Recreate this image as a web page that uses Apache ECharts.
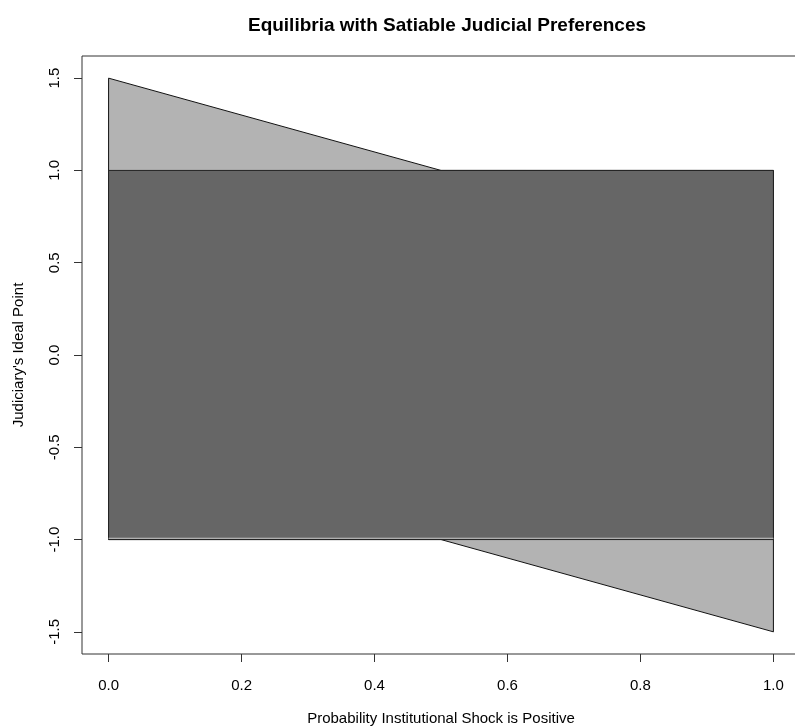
<!DOCTYPE html>
<html>
<head>
<meta charset="utf-8">
<script src="https://cdn.jsdelivr.net/npm/echarts@6/dist/echarts.min.js"></script>
<style>
  html, body { margin: 0; padding: 0; background: #fff; }
  #chart { width: 795px; height: 727px; }
</style>
</head>
<body>
<div id="chart"></div>
<script>
// region outlines (x = probability, y = ideal point)
const lightX = [0, 0.5, 1, 1, 0.5, 0];
const lightY = [1.5, 1, 1, -1.5, -1, -1];
const darkX = [0, 1, 1, 0];
const darkY = [1, 1, -1, -1];
const edgeX = [0, 1];
const edgeY = [-0.993, -0.993];

const xTicks = [0, 0.2, 0.4, 0.6, 0.8, 1.0];
const yTicks = [-1.5, -1.0, -0.5, 0, 0.5, 1.0, 1.5];

const shapes = [
  { xs: lightX, ys: lightY, fill: '#b3b3b3', stroke: '#111', closed: true },
  { xs: darkX, ys: darkY, fill: '#666666', stroke: '#222', closed: true },
  { xs: edgeX, ys: edgeY, fill: null, stroke: '#c8c8c8', closed: false }
];

const chart = echarts.init(document.getElementById('chart'));

const font = 'Liberation Sans, Arial, Helvetica, sans-serif';

const option = {
  animation: false,
  title: {
    text: 'Equilibria with Satiable Judicial Preferences',
    left: 442,
    textAlign: 'center',
    top: 11,
    textStyle: { fontFamily: font, fontSize: 19, fontWeight: 'bold', color: '#000' }
  },
  grid: {
    left: 82, top: 56, width: 718, bottom: 73,
    outerBoundsMode: 'none',
    containLabel: false,
    show: true, borderColor: '#333', borderWidth: 1, backgroundColor: 'transparent'
  },
  xAxis: {
    type: 'value',
    min: -0.04,
    max: 1.04,
    name: 'Probability Institutional Shock is Positive',
    nameLocation: 'middle',
    nameGap: 57,
    nameTextStyle: { fontFamily: font, fontSize: 15, color: '#000' },
    axisLine: { show: false, onZero: false },
    splitLine: { show: false },
    axisTick: { show: true, inside: false, length: 8, customValues: xTicks, lineStyle: { color: '#333' } },
    axisLabel: {
      customValues: xTicks,
      margin: 24,
      fontFamily: font, fontSize: 15, color: '#000',
      formatter: v => v.toFixed(1)
    }
  },
  yAxis: {
    type: 'value',
    min: -1.62,
    max: 1.62,
    name: "Judiciary's Ideal Point",
    nameLocation: 'middle',
    nameGap: 56,
    nameRotate: 90,
    nameTextStyle: { fontFamily: font, fontSize: 15, color: '#000' },
    axisLine: { show: false, onZero: false },
    splitLine: { show: false },
    axisTick: { show: true, inside: false, length: 8, customValues: yTicks, lineStyle: { color: '#333' } },
    axisLabel: {
      customValues: yTicks,
      rotate: 90,
      margin: 20,
      fontFamily: font, fontSize: 15, color: '#000',
      formatter: v => v.toFixed(1)
    }
  },
  series: [{
    type: 'custom',
    coordinateSystem: 'cartesian2d',
    data: shapes.map((s, i) => [s.xs[0], s.ys[0], i]),
    renderItem: function (params, api) {
      const s = shapes[params.dataIndex];
      const pts = s.xs.map((x, k) => api.coord([x, s.ys[k]]));
      if (!s.closed) {
        return {
          type: 'polyline',
          shape: { points: pts },
          style: { fill: null, stroke: s.stroke, lineWidth: 1 }
        };
      }
      return {
        type: 'polygon',
        shape: { points: pts },
        style: { fill: s.fill, stroke: s.stroke, lineWidth: 1 }
      };
    },
    silent: true
  }]
};

chart.setOption(option);
</script>
</body>
</html>
